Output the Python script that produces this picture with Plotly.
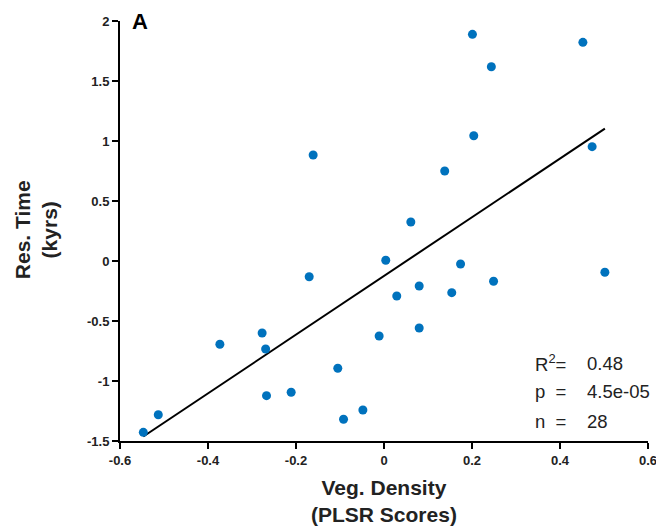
import numpy as np
import plotly.graph_objects as go

veg_density = [-0.161, 0.201, 0.452, 0.244, 0.204, 0.473, 0.138, 0.061, 0.004, 0.174, 0.502,
               -0.170, -0.373, -0.277, -0.269, -0.267, -0.211, -0.513, -0.547, -0.105,
               0.249, 0.080, 0.029, 0.154, 0.080, -0.011, -0.092, -0.048]
res_time = [0.883, 1.889, 1.822, 1.619, 1.044, 0.953, 0.750, 0.325, 0.006, -0.025, -0.094,
            -0.131, -0.694, -0.600, -0.733, -1.122, -1.094, -1.281, -1.428, -0.894,
            -0.169, -0.208, -0.292, -0.264, -0.558, -0.625, -1.319, -1.242]

x_ticks = [-0.6, -0.4, -0.2, 0, 0.2, 0.4, 0.6]
x_tick_labels = ["-0.6", "-0.4", "-0.2", "0", "0.2", "0.4", "0.6"]
y_ticks = [-1.5, -1, -0.5, 0, 0.5, 1, 1.5, 2]
y_tick_labels = ["-1.5", "-1", "-0.5", "0", "0.5", "1", "1.5", "2"]

stat_labels = ["R<sup>2</sup>=", "p  =", "n  ="]
stat_values = ["0.48", "4.5e-05", "28"]

xv = np.array(veg_density)
yv = np.array(res_time)
slope, intercept = np.polyfit(xv, yv, 1)
xl = np.array([xv.min(), xv.max()])
yl = slope * xl + intercept

fig = go.Figure()
fig.add_trace(go.Scatter(x=xl, y=yl, mode="lines",
                         line=dict(color="black", width=2), showlegend=False, hoverinfo="skip"))
fig.add_trace(go.Scatter(x=veg_density, y=res_time, mode="markers",
                         marker=dict(color="#0072BD", size=9), showlegend=False))

FONT = "Liberation Sans, Arial, Helvetica, sans-serif"
axis_common = dict(showgrid=False, zeroline=False, showline=True, linecolor="black", linewidth=2,
                   ticks="outside", ticklen=6, tickwidth=2, tickcolor="black", automargin=False,
                   tickfont=dict(family=FONT, size=13, color="#222222", weight="bold"))
fig.update_xaxes(range=[-0.6, 0.6], tickvals=x_ticks, ticktext=x_tick_labels, **axis_common)
fig.update_yaxes(range=[-1.5, 2], tickvals=y_ticks, ticktext=y_tick_labels, **axis_common)

annotations = [
    dict(text="Res. Time<br>(kyrs)", x=-0.159, y=0.502, xref="paper", yref="paper", textangle=-90,
         xanchor="center", yanchor="middle",
         showarrow=False, font=dict(family=FONT, size=21, color="#222222", weight="bold")),
    dict(text="Veg. Density<br>(PLSR Scores)", x=0.5, y=-0.143, xref="paper", yref="paper",
         xanchor="center", yanchor="middle",
         showarrow=False, font=dict(family=FONT, size=21, color="#222222", weight="bold")),
    dict(text="A", x=0.038, y=0.998, xref="paper", yref="paper", showarrow=False,
         xanchor="center", yanchor="middle",
         font=dict(family=FONT, size=22, color="black", weight="bold")),
]
stat_ys = [0.1857, 0.1167, 0.0476]
for lab, val, yy in zip(stat_labels, stat_values, stat_ys):
    annotations.append(dict(text=lab, x=0.782, y=yy, xref="paper", yref="paper", xanchor="left",
                            yanchor="middle",
                            showarrow=False, font=dict(family=FONT, size=18.5, color="#222222")))
    annotations.append(dict(text=val, x=0.8807, y=yy, xref="paper", yref="paper", xanchor="left",
                            yanchor="middle",
                            showarrow=False, font=dict(family=FONT, size=18.5, color="#222222")))

# page body has an 8px margin; size the figure so the plot area lands where the reference has it
fig.update_layout(width=656, height=521, margin=dict(l=112, r=16, t=13, b=88, autoexpand=False),
                  plot_bgcolor="white", paper_bgcolor="white", annotations=annotations)
fig.write_html("out.html")
